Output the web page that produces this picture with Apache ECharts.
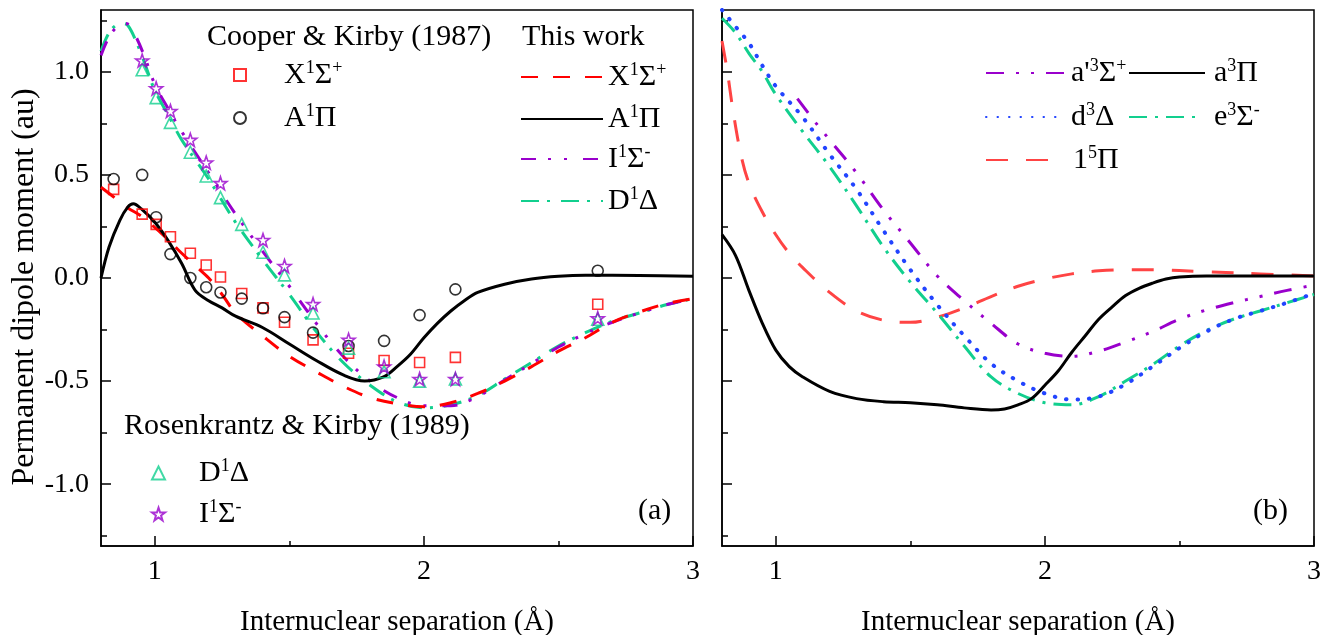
<!DOCTYPE html>
<html><head><meta charset="utf-8">
<script src="https://cdn.jsdelivr.net/npm/echarts@6.0.0/dist/echarts.min.js"></script>
<style>html,body{margin:0;padding:0;background:#fff}#c{width:1327px;height:635px}</style>
</head><body><div id="c"></div>
<script>
// ---------- Data (Å, au) ----------
// Panel (a): This work
const xTwX = [0.8,0.85,0.9,0.95,1.0,1.05,1.1,1.15,1.2,1.25,1.3,1.4,1.5,1.6,1.7,1.8,1.9,2.0,2.1,2.2,2.3,2.4,2.5,2.6,2.7,2.8,2.9,3.0];
const twX  = [0.44,0.39,0.34,0.3,0.245,0.185,0.12,0.06,0.0,-0.08,-0.17,-0.28,-0.38,-0.455,-0.525,-0.58,-0.61,-0.625,-0.605,-0.56,-0.5,-0.43,-0.355,-0.29,-0.215,-0.165,-0.125,-0.1];
const xTwA = [0.8,0.83,0.87,0.9,0.92,0.95,1.0,1.05,1.1,1.15,1.2,1.25,1.3,1.4,1.5,1.6,1.7,1.78,1.85,1.9,1.95,2.0,2.05,2.1,2.15,2.2,2.3,2.4,2.5,2.6,2.8,3.0];
const twA  = [0.0,0.15,0.28,0.345,0.36,0.335,0.27,0.18,0.07,-0.06,-0.11,-0.145,-0.185,-0.24,-0.32,-0.4,-0.47,-0.5,-0.48,-0.43,-0.37,-0.29,-0.22,-0.16,-0.11,-0.07,-0.03,-0.005,0.008,0.013,0.012,0.008];
const xTwID = [0.8,0.83,0.86,0.88,0.9,0.93,0.96,1.0,1.05,1.1,1.2,1.3,1.4,1.5,1.6,1.7,1.8,1.9,2.0,2.1,2.2,2.3,2.4,2.5,2.6,2.7,2.8,2.9,3.0];
const twI  = [1.08,1.17,1.22,1.235,1.232,1.17,1.08,0.94,0.82,0.71,0.51,0.31,0.13,-0.04,-0.22,-0.38,-0.5,-0.58,-0.62,-0.62,-0.575,-0.495,-0.415,-0.335,-0.27,-0.215,-0.17,-0.13,-0.1];
const twD  = [1.1,1.19,1.23,1.235,1.225,1.15,1.05,0.91,0.79,0.67,0.48,0.27,0.09,-0.08,-0.26,-0.41,-0.52,-0.6,-0.63,-0.615,-0.57,-0.49,-0.41,-0.33,-0.265,-0.21,-0.17,-0.13,-0.1];
// Panel (a): Cooper & Kirby (1987)
const xCK  = [0.847,0.953,1.005,1.058,1.132,1.191,1.244,1.323,1.402,1.482,1.588,1.72,1.852,1.984,2.117,2.646];
const ckX  = [0.43,0.31,0.26,0.2,0.12,0.063,0.005,-0.075,-0.145,-0.215,-0.30,-0.365,-0.40,-0.41,-0.385,-0.127];
const ckA  = [0.48,0.50,0.295,0.116,0.0,-0.045,-0.07,-0.10,-0.147,-0.19,-0.265,-0.33,-0.305,-0.18,-0.055,0.035];
// Panel (a): Rosenkrantz & Kirby (1989)
const xRKD = [0.953,1.005,1.058,1.132,1.191,1.244,1.323,1.402,1.482,1.588,1.72,1.852,1.984,2.117,2.646];
const rkD  = [1.01,0.875,0.755,0.61,0.495,0.39,0.26,0.125,0.015,-0.17,-0.34,-0.455,-0.50,-0.49,-0.2];
const xRKI = [0.953,1.005,1.058,1.132,1.191,1.244,1.402,1.482,1.588,1.72,1.852,1.984,2.117,2.646];
const rkI  = [1.055,0.92,0.81,0.67,0.56,0.46,0.184,0.058,-0.127,-0.30,-0.43,-0.49,-0.49,-0.195];
// Panel (b)
const xBa = [0.8,0.85,0.9,0.95,1.0,1.05,1.1,1.2,1.3,1.4,1.5,1.6,1.7,1.8,1.85,1.9,1.95,2.0,2.05,2.1,2.15,2.2,2.25,2.3,2.35,2.4,2.45,2.5,2.6,2.8,3.0];
const ba  = [0.21,0.11,-0.06,-0.22,-0.35,-0.43,-0.48,-0.55,-0.585,-0.6,-0.605,-0.615,-0.63,-0.64,-0.635,-0.615,-0.585,-0.52,-0.45,-0.36,-0.28,-0.2,-0.14,-0.085,-0.05,-0.025,-0.005,0.005,0.01,0.01,0.01];
const xBde = [0.8,0.85,0.9,0.95,1.0,1.1,1.2,1.3,1.4,1.5,1.6,1.7,1.8,1.9,2.0,2.1,2.2,2.3,2.4,2.5,2.6,2.7,2.8,2.9,3.0];
const bd  = [1.3,1.22,1.14,1.03,0.93,0.78,0.6,0.43,0.23,0.04,-0.13,-0.28,-0.415,-0.5,-0.56,-0.59,-0.575,-0.515,-0.43,-0.34,-0.26,-0.2,-0.16,-0.12,-0.075];
const be  = [1.26,1.19,1.09,1.0,0.89,0.71,0.54,0.35,0.15,-0.02,-0.17,-0.33,-0.48,-0.56,-0.605,-0.615,-0.575,-0.5,-0.42,-0.33,-0.255,-0.2,-0.16,-0.12,-0.08];
const xBap = [1.08,1.15,1.2,1.3,1.4,1.5,1.6,1.7,1.8,1.9,2.0,2.1,2.2,2.3,2.4,2.5,2.6,2.7,2.8,2.9,3.0];
const bap = [0.87,0.75,0.67,0.51,0.33,0.17,0.01,-0.11,-0.22,-0.32,-0.365,-0.38,-0.355,-0.31,-0.26,-0.2,-0.155,-0.12,-0.09,-0.06,-0.035];
const xBq = [0.8,0.82,0.84,0.87,0.9,0.95,1.0,1.05,1.1,1.2,1.3,1.4,1.5,1.6,1.7,1.8,1.9,2.0,2.1,2.2,2.3,2.4,2.6,2.8,3.0];
const bq  = [1.15,1.0,0.82,0.6,0.46,0.32,0.21,0.12,0.05,-0.07,-0.16,-0.205,-0.215,-0.19,-0.145,-0.09,-0.04,-0.005,0.02,0.035,0.04,0.04,0.03,0.02,0.01];
// Axes ticks
const xMajor = [1,2,3];
const xMinor = [1.5,2.5];
const yMajor = [-1,-0.5,0,0.5,1];
const yMinor = [-1.25,-0.75,-0.25,0.25,0.75,1.25];

// ---------- Styling ----------
const FONT = "'Liberation Serif','Times New Roman',Times,serif";
const RED = '#ff0000', BLACK = '#000000', PURPLE = '#9900cc', GREEN = '#12cf8e', BLUE = '#2244ff', RED2 = '#ff4444';
const pairs = (xs, ys) => xs.map((x, i) => [x, ys[i]]);

const labels = {
  tw_X: '{n|X}{s|1}{n|Σ}{s|+}',
  tw_A: '{n|A}{s|1}{n|Π}',
  tw_I: '{n|I}{s|1}{n|Σ}{s|-}',
  tw_D: '{n|D}{s|1}{n|Δ}',
  ck_X: '{n|X}{s|1}{n|Σ}{s|+}',
  ck_A: '{n|A}{s|1}{n|Π}',
  rk_D: '{n|D}{s|1}{n|Δ}',
  rk_I: '{n|I}{s|1}{n|Σ}{s|-}',
  b_ap: "{n|a'}{s|3}{n|Σ}{s|+}",
  b_a: '{n|a}{s|3}{n|Π}',
  b_d: '{n|d}{s|3}{n|Δ}',
  b_e: '{n|e}{s|3}{n|Σ}{s|-}',
  b_q: '{n|1}{s|5}{n|Π}'
};

function legend(name, left, centerY, iw, ih, spacer, isLine) {
  const lg = {
    data: [name], left: left, top: centerY - 16, padding: 0,
    itemWidth: iw, itemHeight: ih, selectedMode: false,
    formatter: n => (spacer ? '{sp| }' : '') + labels[n],
    textStyle: {
      fontFamily: FONT, fontSize: 30, color: '#000',
      rich: {
        n: {fontFamily: FONT, fontSize: 30, color: '#000', lineHeight: 32},
        s: {fontFamily: FONT, fontSize: 18, color: '#000', lineHeight: 19, verticalAlign: 'top'},
        sp: {width: spacer || 0, fontSize: 10, lineHeight: 32}
      }
    }
  };
  if (isLine) {
    lg.itemStyle = {color: 'rgba(0,0,0,0)', borderColor: 'rgba(0,0,0,0)', borderWidth: 0, opacity: 0};
  }
  return lg;
}

function lineSeries(name, xs, ys, color, dash, grid, width, cap) {
  return {
    name, type: 'line', xAxisIndex: grid, yAxisIndex: grid,
    data: pairs(xs, ys), symbol: 'none', smooth: 0.35, clip: true, z: 2,
    lineStyle: {color, width: width || 3, type: dash, cap: cap || 'butt'},
    itemStyle: {color},
    emphasis: {disabled: true}
  };
}
function scatterSeries(name, xs, ys, color, symbol, size) {
  return {
    name, type: 'scatter', xAxisIndex: 0, yAxisIndex: 0,
    data: pairs(xs, ys), symbol, symbolSize: size, z: 4,
    itemStyle: {color: 'rgba(255,255,255,0)', borderColor: color, borderWidth: 1.6},
    emphasis: {disabled: true}
  };
}
const STAR = 'path://M50,0 L61.8,35.5 L97.6,35.5 L68.9,57.4 L79.4,92.7 L50,71.1 L20.6,92.7 L31.1,57.4 L2.4,35.5 L38.2,35.5 Z';

const axisText = {fontFamily: FONT, fontSize: 28, color: '#000'};
function xMajorAxis(g) {
  return {
    type: 'value', gridIndex: g, min: 0.8, max: 3, position: 'bottom',
    axisLine: {show: true, onZero: false, lineStyle: {color: '#000', width: 1.5}},
    axisTick: {show: true, inside: true, length: 10, customValues: xMajor, lineStyle: {color: '#000', width: 1.5}},
    axisLabel: Object.assign({show: true, customValues: xMajor, margin: 12, formatter: v => String(v)}, axisText),
    splitLine: {show: false},
    name: 'Internuclear separation (Å)', nameLocation: 'middle', nameGap: 62,
    nameTextStyle: {fontFamily: FONT, fontSize: 29, color: '#000'}
  };
}
function xMinorAxis(g) {
  return {
    type: 'value', gridIndex: g, min: 0.8, max: 3, position: 'bottom',
    axisLine: {show: false, onZero: false},
    axisTick: {show: true, inside: true, length: 5, customValues: xMinor, lineStyle: {color: '#000', width: 1.5}},
    axisLabel: {show: false}, splitLine: {show: false}
  };
}
function yMajorAxis(g, withLabels) {
  const ax = {
    type: 'value', gridIndex: g, min: -1.3, max: 1.3, position: 'left',
    axisLine: {show: true, onZero: false, lineStyle: {color: '#000', width: 1.5}},
    axisTick: {show: true, inside: true, length: 10, customValues: yMajor, lineStyle: {color: '#000', width: 1.5}},
    axisLabel: Object.assign({show: withLabels, customValues: yMajor, margin: 12, formatter: v => v.toFixed(1)}, axisText),
    splitLine: {show: false}
  };
  if (withLabels) {
    ax.name = 'Permanent dipole moment (au)';
    ax.nameLocation = 'middle'; ax.nameGap = 60;
    ax.nameTextStyle = {fontFamily: FONT, fontSize: 32, color: '#000', padding: [0, 18, 0, 0]};
  }
  return ax;
}
function yMinorAxis(g) {
  return {
    type: 'value', gridIndex: g, min: -1.3, max: 1.3, position: 'left',
    axisLine: {show: false, onZero: false},
    axisTick: {show: true, inside: true, length: 6, customValues: yMinor, lineStyle: {color: '#000', width: 1.5}},
    axisLabel: {show: false}, splitLine: {show: false}
  };
}
const hdr = (text, x, y) => ({type: 'text', x, y, z: 10, style: {text, fill: '#000', font: '30px ' + FONT, align: 'left', verticalAlign: 'middle'}});

const gridBase = {top: 10, bottom: 89, show: true, borderColor: '#000', borderWidth: 1.5, backgroundColor: 'transparent', containLabel: false, outerBoundsMode: 'none'};
const option = {
  animation: false,
  backgroundColor: '#fff',
  grid: [
    Object.assign({left: 101, right: 634}, gridBase),
    Object.assign({left: 722, right: 13}, gridBase)
  ],
  xAxis: [xMajorAxis(0), xMajorAxis(1), xMinorAxis(0), xMinorAxis(1)],
  yAxis: [yMajorAxis(0, true), yMajorAxis(1, false), yMinorAxis(0), yMinorAxis(1)],
  legend: [
    legend('ck_X', 233, 75, 12, 12, 33),
    legend('ck_A', 233, 118, 12, 12, 33),
    legend('tw_X', 520, 77, 82, 14, 0, true),
    legend('tw_A', 520, 119, 82, 14, 0, true),
    legend('tw_I', 520, 159, 82, 14, 0, true),
    legend('tw_D', 520, 201, 82, 14, 0, true),
    legend('rk_D', 151, 473, 13, 13, 29),
    legend('rk_I', 151, 514, 13, 13, 29),
    legend('b_ap', 985, 73, 78, 14, 2, true),
    legend('b_a', 1128, 73, 76, 14, 4, true),
    legend('b_d', 985, 117, 78, 14, 2, true),
    legend('b_e', 1128, 117, 73, 14, 7, true),
    legend('b_q', 985, 160, 70, 14, 12, true)
  ],
  graphic: [
    hdr('Cooper & Kirby (1987)', 207, 37),
    hdr('This work', 522, 37),
    hdr('Rosenkrantz & Kirby (1989)', 124, 426),
    hdr('(a)', 638, 511),
    hdr('(b)', 1253, 511)
  ],
  series: [
    lineSeries('tw_D', xTwID, twD, GREEN, [18,8,3,11], 0),
    lineSeries('tw_I', xTwID, twI, PURPLE, [15,12,3,13,3,16], 0),
    lineSeries('tw_X', xTwX, twX, RED, [17,15], 0),
    lineSeries('tw_A', xTwA, twA, BLACK, 'solid', 0),
    scatterSeries('ck_X', xCK, ckX, RED, 'rect', 10),
    scatterSeries('ck_A', xCK, ckA, BLACK, 'circle', 11),
    scatterSeries('rk_D', xRKD, rkD, GREEN, 'triangle', 12),
    scatterSeries('rk_I', xRKI, rkI, PURPLE, STAR, 13),
    lineSeries('b_q', xBq, bq, RED2, [22,18], 1),
    lineSeries('b_e', xBde, be, GREEN, [18,8,3,8], 1),
    lineSeries('b_d', xBde, bd, BLUE, [0.5,11], 1, 4, 'round'),
    lineSeries('b_ap', xBap, bap, PURPLE, [18,12,3,12,3,12], 1),
    lineSeries('b_a', xBa, ba, BLACK, 'solid', 1)
  ]
};
const chart = echarts.init(document.getElementById('c'), null, {renderer: 'canvas'});
chart.setOption(option);
</script>
</body></html>
